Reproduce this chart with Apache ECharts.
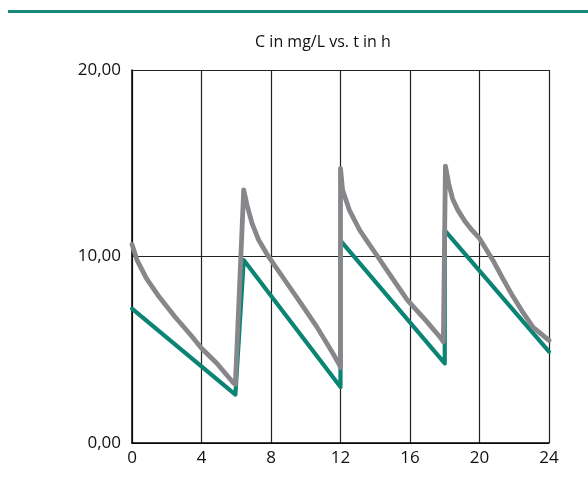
<!DOCTYPE html>
<html>
<head>
<meta charset="utf-8">
<script src="https://cdn.jsdelivr.net/npm/echarts@6/dist/echarts.min.js"></script>
<style>
html,body{margin:0;padding:0;background:#fff;}
#c{width:588px;height:501px;}
</style>
</head>
<body>
<div id="c"></div>
<script>
var titleText = "C in mg/L vs. t in h";
var xTicks = [0, 4, 8, 12, 16, 20, 24];
var yTicks = [0, 10, 20];

var greyT = [0, 0.29, 0.83, 1.56, 2.47, 3.38, 4.0, 4.88, 5.83, 5.95,
             6.43, 6.62, 6.91, 7.29, 7.86, 8.79, 9.72, 10.63, 11.56, 11.93, 12,
             12, 12.12, 12.51, 13.1, 13.49, 14.08, 14.86, 15.84, 16.88, 17.71, 17.92, 18,
             18.04, 18.23, 18.45, 18.75, 19.15, 19.58, 20, 20.77, 21.35, 21.93, 22.5, 23.09, 24];
var greyC = [10.65, 9.81, 8.83, 7.84, 6.77, 5.79, 5.08, 4.28, 3.23, 3.15,
             13.57, 12.76, 11.78, 10.88, 9.99, 8.74, 7.49, 6.24, 4.81, 4.2, 4.05,
             14.73, 13.57, 12.49, 11.42, 10.88, 10.08, 9.0, 7.67, 6.6, 5.7, 5.43, 5.4,
             14.85, 13.9, 13.1, 12.5, 11.9, 11.4, 10.97, 9.8, 8.8, 7.85, 7.0, 6.2, 5.5];

var greenT = [0, 5.95, 6.43, 12, 12, 18, 18, 24];
var greenC = [7.2, 2.6, 9.81, 3.0, 10.85, 4.27, 11.4, 4.9];

function pairs(t, c) { return t.map(function (v, i) { return [v, c[i]]; }); }

var font = "'Open Sans', 'Noto Sans', sans-serif";
var chart = echarts.init(document.getElementById('c'), null, {renderer: 'canvas'});
chart.setOption({
  backgroundColor: '#fff',
  animation: false,
  title: {
    text: titleText, left: 318, top: 29, textAlign: 'center',
    textStyle: {fontFamily: font, fontSize: 16, fontWeight: 'normal', color: '#111'}
  },
  graphic: [{
    type: 'line', shape: {x1: 8, y1: 11.5, x2: 588, y2: 11.5},
    style: {stroke: '#17897a', lineWidth: 3}
  }],
  grid: {left: 132, right: 39, top: 70, bottom: 58},
  xAxis: {
    type: 'value', min: xTicks[0], max: xTicks[xTicks.length - 1], interval: 4,
    axisLine: {lineStyle: {color: '#000', width: 1.5}},
    axisTick: {show: false},
    axisLabel: {fontFamily: font, fontSize: 17, color: '#111', margin: 7},
    splitLine: {show: true, lineStyle: {color: '#222', width: 1.2}}
  },
  yAxis: {
    type: 'value', min: yTicks[0], max: yTicks[yTicks.length - 1], interval: 10,
    axisLine: {show: true, lineStyle: {color: '#000', width: 1.5}},
    axisTick: {show: false},
    axisLabel: {fontFamily: font, fontSize: 17, color: '#111', margin: 11,
      formatter: function (v) { return v.toFixed(2).replace('.', ','); }},
    splitLine: {show: true, lineStyle: {color: '#222', width: 1.2}}
  },
  series: [
    {type: 'line', data: pairs(greenT, greenC), showSymbol: false, z: 3,
     lineStyle: {color: '#0b8474', width: 4.2, cap: 'round', join: 'round'}},
    {type: 'line', data: pairs(greyT, greyC), showSymbol: false, z: 4,
     lineStyle: {color: '#87878b', width: 4.8, cap: 'round', join: 'round'}}
  ]
});
</script>
</body>
</html>
